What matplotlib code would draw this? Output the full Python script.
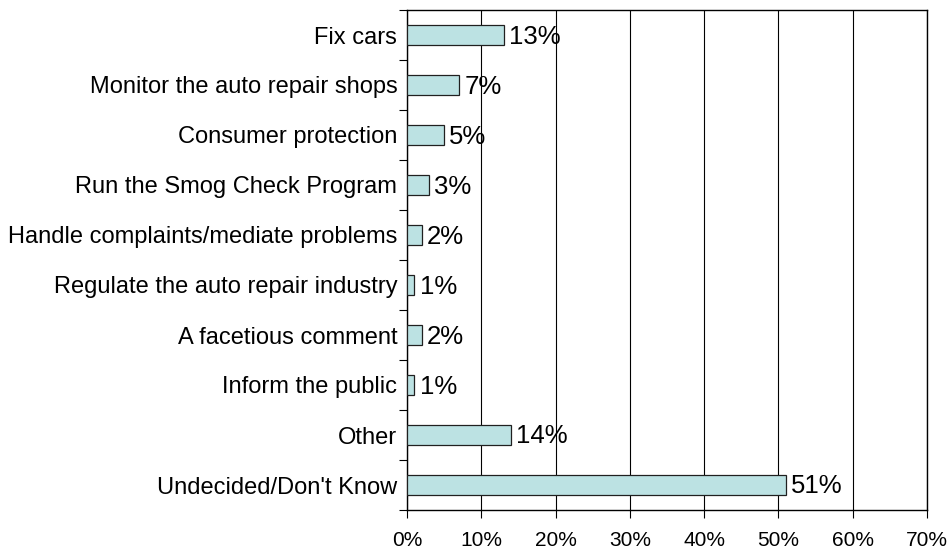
import matplotlib
matplotlib.use("Agg")
import matplotlib.pyplot as plt
from matplotlib.ticker import FixedLocator

categories = ["Fix cars", "Monitor the auto repair shops", "Consumer protection",
              "Run the Smog Check Program", "Handle complaints/mediate problems",
              "Regulate the auto repair industry", "A facetious comment",
              "Inform the public", "Other", "Undecided/Don't Know"]
values = [13, 7, 5, 3, 2, 1, 2, 1, 14, 51]
xticks = [0, 10, 20, 30, 40, 50, 60, 70]

plt.rcParams['font.family'] = ['Liberation Sans', 'DejaVu Sans']

fig = plt.figure(figsize=(9.5, 5.52), dpi=100)
ax = fig.add_axes([407/950, 1-510/552, (927-407)/950, 500/552])

n = len(categories)
ypos = list(range(n))
ax.barh(ypos, values, height=0.4, color='#BCE2E3', edgecolor='#202020', linewidth=0.9, zorder=3)
for y, v in zip(ypos, values):
    ax.text(v + 0.7, y + 0.03, f"{v}%", va='center', ha='left', fontsize=18.5, color='black', zorder=4)

ax.set_xlim(0, 70)
ax.set_ylim(n - 0.5, -0.5)
ax.set_xticks(xticks)
ax.set_xticklabels([f"{t}%" for t in xticks], fontsize=15)
ax.xaxis.grid(True, color='black', linewidth=0.8, zorder=0)
ax.set_yticks(ypos)
ax.set_yticklabels(categories, fontsize=17)
ax.tick_params(axis='y', which='major', length=0, pad=7)
ax.yaxis.set_minor_locator(FixedLocator([i - 0.5 for i in range(n + 1)]))
ax.tick_params(axis='y', which='minor', length=6, width=0.8, direction='out')
ax.tick_params(axis='x', length=6, width=0.8, direction='out', pad=9)
for s in ax.spines.values():
    s.set_linewidth(1.0)
    s.set_color('black')

fig.savefig("out.png", dpi=100)
